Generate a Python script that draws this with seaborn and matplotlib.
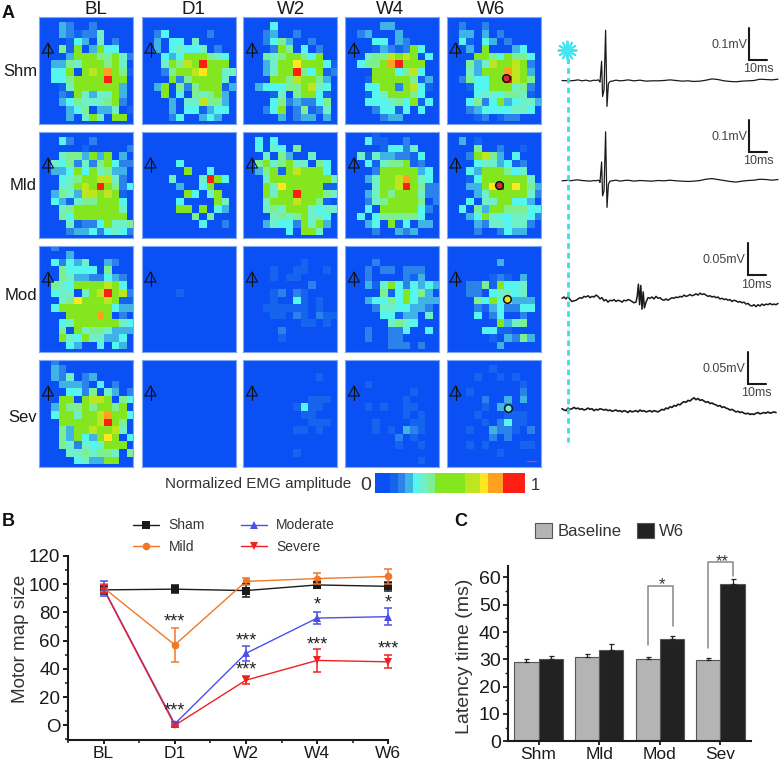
import numpy as np
import pandas as pd
import matplotlib
matplotlib.use("Agg")
import matplotlib.pyplot as plt
from matplotlib.colors import ListedColormap, BoundaryNorm
import seaborn as sns

sns.set_theme(style="white")
plt.rcParams['font.family'] = ['Liberation Sans', 'DejaVu Sans']

W, H = 780, 763
PALETTE = ['#0A50F5', '#1464F0', '#2A82EA', '#3FB2E6', '#55F5F0', '#6FF0C8',
           '#7CF090', '#84E61E', '#BEE61E', '#FFE61E', '#FFA01E', '#FF1E14']

times = ['BL', 'D1', 'W2', 'W4', 'W6']
groups_short = ['Shm', 'Mld', 'Mod', 'Sev']
groups_long = ['Sham', 'Mild', 'Moderate', 'Severe']
Z = "0000000000000"

# motor maps: one hex digit per cell = amplitude level
shm_bl = [Z,"0003200200000","0003212250000","0000143050200","0006170374400",
          "0000377766752","0033657776750","004470787a761","004467777b770","0001577777730",
          "0002175355730","0003465556720","0000346033501","0000305750770"]
shm_d1 = [Z,Z,"0024000002000","0030440500000","0030454450200",
          "0004347776540","00057687b7770","0002677897755","0000726777750","0037062677713",
          "0007040656730","0000305586630","0000304413440","0000240034300"]
shm_w2 = [Z,"0000400000000","0002300200000","0002463002000","0000276040200",
          "0006567764700","0003577977741","0003577b64712","0000776877630","0034446678540",
          "0000150677410","0000462322460","0002470261250","0000030233030"]
shm_w4 = [Z,"0000033000000","0023000300000","0000440320000","0000132127400",
          "0005668787040","004667ab77700","0000777468400","0001777776130","0004477278410",
          "0001457776400","0004445647140","0000244140400","0000023300000"]
shm_w6 = [Z,"0020020000000","0033030200000","0041043020000","0003070003400",
          "0000776476640","0006358778720","00053777a8730","00264477b8760","0001447775620",
          "0000455466510","0004624734553","0002344445540","0000120122000"]

mld_bl = [Z,"0004200200000","0000001000002","0005663737030","0054625267422",
          "0033474756330","0004567788520","00055787b7624","0036538878710","0043156677740",
          "0005677777750","0006477777770","0000512247556","0000233424542"]
mld_d1 = [Z,Z,Z,Z,"0000040000000","0000007004000","000050005b740","0000030047000","0000007405700",
          "0000040000750","0000077070430","0000000606000","0000000040020",Z]
mld_w2 = [Z,"0040400000000","0040540600000","0005063005000","0067567550640",
          "0036717877740","0005777777775","0007597777711","0007577b77765","0005777877610",
          "0005657775455","0000565675540","0003544275730","0000004077500"]
mld_w4 = ["0000100000000","0004110020000","0000014425000","0051533221400","0004156671200",
          "0000277777340","00035778a7540","00005778b7622","0003576777522","0002567777602",
          "0004077777420","0040466666400","0003407140330","0000200323000"]
mld_w6 = [Z,"0030100000000","0000600200100","0002786304000","0000455341200",
          "0004377764500","0001477777750","0003379b79763","0000357777752","0004055774430",
          "0040637766644","0003475445542","0000325545520","0000200243300"]

mod_bl = ["0020000000000","0000300000000","0042435003200","0006444406000","0006533224320",
          "0065477778740","004550578b782","0005697778711","0047777777433","00007777a7020",
          "0004577777754","0006075665333","0007547553340","0000430040430"]
mod_d1 = [Z,Z,Z,Z,Z,Z,"0000010000000",Z,Z,Z,Z,Z,Z,Z]
mod_w2 = [Z,Z,"0000000010000","0000100110010","0000101100000","0000000002000","0000120210000",
          "0000100410100","0001111110100","0000110210211","0000000011010","0000020000000",
          "0000010000000",Z]
mod_w4 = [Z,Z,"0000200000000","0002022022200","0002000021300","0003157424343","0000061474630",
          "0003446474333","0000255443320","0000044133050","0000005654000","0002002240040",
          "0002002200000","0000002220200"]
mod_w6 = [Z,Z,"0000000300000",Z,"0000001210300","0002261744500","0002204554500",
          "0000647453330","0000213422440","0000402400200","0000000735600","0000044110000",
          "0000001032630","0000000300000"]

sev_bl = ["0020000000000","0032000000000","0032502300000","0003332040200","0000442605302",
          "0007707887064","0037667677670","004775778a774","000777778b760","0006377877850",
          "0006374379704","0006525457770","0000556566506","0000045337700"]
sev_d1 = [Z] * 14
sev_w2 = [Z,Z,"0000000000100",Z,Z,"0000000001110","0000000141100","0000000011000","0000000001110",
          "0000000110100",Z,Z,"0000000100000",Z]
sev_w4 = [Z,Z,Z,"0001000000000","0000000001000","0000000010000","0001010011000","0000000010100",
          "0000100001100","0000101032100","0000000201000","0000000100100",Z,"0000000000100"]
sev_w6 = [Z,"0000001000000","0000100101000","0000000000100","0001000000200","0000020030300",
          "0000010320000","0000100011100","0000010241100","0001003221020","0000002020000",
          "0001010000110","0000000100000",Z]

map_rows = [[shm_bl, shm_d1, shm_w2, shm_w4, shm_w6],
            [mld_bl, mld_d1, mld_w2, mld_w4, mld_w6],
            [mod_bl, mod_d1, mod_w2, mod_w4, mod_w6],
            [sev_bl, sev_d1, sev_w2, sev_w4, sev_w6]]
cbar_levels = [0,0,1,2,3,4,5,6,7,7,7,7,8,8,9,10,10,11,11,11]

# panel B
sham_v = [96, 96.5, 95.5, 99.5, 98.5]; sham_e = [3, 3, 4.5, 2, 3]
mild_v = [97.5, 57, 102, 104, 105.5]; mild_e = [3, 12, 2.5, 4, 5.5]
mode_v = [97, 1, 51, 76, 77]; mode_e = [5, 1.5, 5.5, 4.5, 6]
seve_v = [96.5, 0, 32, 46, 45]; seve_e = [3, 1, 3, 8, 4.5]
line_colors = ['#1A1A1A', '#F07828', '#4A50E8', '#F02020']
star_x = [1, 1, 2, 2, 3, 3, 4, 4]
star_y = [73, 10, 60, 39, 85, 57, 86.5, 54]
star_t = ['***', '***', '***', '***', '*', '***', '*', '***']

# panel C
base_v = [29.2, 31, 30, 29.6]; base_e = [1, 1, 1, 0.8]
w6_v = [30.3, 33.6, 37.5, 57.5]; w6_e = [1.1, 2.1, 1, 1.9]

# EMG traces, microvolts vs ms
t_base = [-3,-1,0,1,3,5,7,9,11,13,14,15]
t_tail = [22,24,26,28,30,33,36,39,42,45,48,51,54,57,60,63,66,69,72,75,78,81,84,87,90,93,96,99,102,105]
t1 = t_base + [15.5,16,16.8,17.3,18,18.8,19.5,20.2,21] + t_tail
y1 = [0,-1,1,-1,0,2,-1,1,-2,1,0,2, 0,-5,60,-50,-30,157,-81,-10,-3,
      -2,1,-1,0,2,-1,1,-2,-1,-1,0,2,0,-2,-1,-3,-2,1,5,3,-1,-3,-4,-2,-1,0,4,3,2,4]
y2 = [-1,0,1,-1,1,2,0,-1,-2,0,-1,1, 0,-6,58,-48,-32,152,-84,-12,-2,
      -1,1,-2,0,1,-2,0,-1,-2,0,-1,1,-1,-2,-3,-2,0,4,6,3,0,-3,-5,-2,0,1,4,3,1,3]
t3 = list(range(-3, 34)) + [34,34.6,35.2,35.8,36.4,37,37.6,38.2] + list(range(39, 106))
y3 = [0,2,-1,3,-2,-5,-4,-3,-1,
      1,0,3,2,4,1,3,2,5,3,
      -1,1,-4,-2,-6,-3,-4,-2,-5,-3,
      -4,-6,-3,-4,-2,-3,-5,-7,
      -6,3,22,-10,20,-17,10,-15,
      -6,1,0,2,-1,3,0,1,-2,-3,
      -1,-3,-1,1,0,2,1,3,2,5,
      3,4,6,4,5,7,5,8,6,7,
      5,3,4,2,3,1,2,-1,0,-2,
      -1,-3,-2,-5,-3,-4,-6,-5,-7,-6,
      -9,-8,-11,-12,-10,-13,-10,-12,-9,-11,
      -9,-10,-8,-10,-9,-10,-8]
t4 = list(range(-3, 105))
y4 = [2,0,-1,3,1,2,4,2,3,1,
      2,0,1,3,1,2,-1,1,0,2,
      1,0,1,-1,0,-2,-1,0,-2,-1,
      -3,-1,-2,-4,-1,-3,-2,-1,-3,0,
      -2,-1,-3,-2,-1,-3,-1,-2,-3,-1,
      1,0,3,2,5,4,7,6,9,8,
      11,13,12,15,14,17,19,16,18,15,
      16,14,12,13,10,11,9,8,6,7,
      4,5,3,2,0,1,-1,-3,-2,-4,
      -3,-5,-6,-5,-7,-6,-7,-5,-4,-6,
      -5,-4,-5,-3,-5,-4,-3,-4]

fig = plt.figure(figsize=(7.8, 7.63), dpi=100)

def rect(x0, y0, x1, y1):
    return [x0 / W, 1 - y1 / H, (x1 - x0) / W, (y1 - y0) / H]

cmap = ListedColormap(PALETTE)
norm = BoundaryNorm(np.arange(-0.5, 12.5), 12)
col_x = [(39, 133), (141.5, 235.5), (243, 337), (345, 439), (446.5, 541)]
row_y = [(17, 124), (132, 238), (246, 352), (360, 467)]
for r, rows in enumerate(map_rows):
    for c, panel in enumerate(rows):
        arr = np.array([[int(ch, 16) for ch in s.ljust(13, '0')[:13]] for s in panel])
        ax = fig.add_axes(rect(col_x[c][0], row_y[r][0], col_x[c][1], row_y[r][1]))
        ax.set_facecolor(PALETTE[0])
        sns.heatmap(arr, ax=ax, cmap=cmap, norm=norm, cbar=False, xticklabels=False, yticklabels=False)
        ax.set_xlim(0.37, 12.82)
        ax.set_ylim(14.35, 0.3)
        for s in ax.spines.values():
            s.set_visible(True); s.set_color('#7FA8F0'); s.set_linewidth(0.8)

# colorbar
cax = fig.add_axes(rect(375, 473, 525, 493))
sns.heatmap(np.array([cbar_levels]), ax=cax, cmap=cmap, norm=norm, cbar=False, xticklabels=False, yticklabels=False)

# traces
def trace_axis(t, y, base_y, uv_per_px, lw):
    box = (560, base_y - 60, 780, base_y + 40)
    ax = fig.add_axes(rect(*box))
    ax.patch.set_alpha(0)
    sns.lineplot(x=t, y=y, ax=ax, color='#1A1A1A', lw=lw, estimator=None, sort=False)
    ax.set_xlim((box[0] - 568) / 2, (box[2] - 568) / 2)
    ax.set_ylim(-40 * uv_per_px, 60 * uv_per_px)
    ax.axis('off')

trace_axis(t1, y1, 80.5, 3.125, 0.9)
trace_axis(t1, y2, 180.5, 3.125, 0.9)
trace_axis(t3, y3, 298.3, 1.56, 1.1)
trace_axis(t4, y4, 410, 1.56, 1.2)

# panel B
ax = fig.add_axes(rect(68, 556, 388.3, 740))
df = pd.DataFrame({
    'pos': list(range(5)) * 4,
    'size': sham_v + mild_v + mode_v + seve_v,
    'err': sham_e + mild_e + mode_e + seve_e,
    'group': sum([[g] * 5 for g in groups_long], []),
})
sns.lineplot(data=df, x='pos', y='size', hue='group', style='group', ax=ax, palette=line_colors,
             hue_order=groups_long, style_order=groups_long, markers=['s', 'o', '^', 'v'], dashes=False,
             markersize=5.5, markeredgewidth=0, lw=1.0, estimator=None, clip_on=False, legend='full')
for g, col in zip(groups_long, line_colors):
    d = df[df.group == g]
    ax.errorbar(d.pos, d['size'], yerr=d.err, fmt='none', ecolor=col, elinewidth=1.1, capsize=2.6, capthick=1.1, clip_on=False)
ax.set_xlim(-0.5, 4)
ax.set_ylim(-10.4, 120)
ax.set_xticks(range(5), times)
ax.set_xticks([0.5, 1.5, 2.5, 3.5, -0.5], minor=True)
ax.set_yticks(range(0, 121, 20), ['O', '20', '40', '60', '80', '100', '120'])
ax.set_yticks(range(-10, 121, 20), minor=True)
ax.tick_params(axis='y', which='major', direction='out', length=3.6, width=1.4, color='#1A1A1A', labelsize=13.5,
               labelcolor='#1A1A1A', left=True, pad=2)
ax.tick_params(axis='x', which='major', direction='out', length=3, width=1.4, color='#1A1A1A', labelsize=12.5,
               labelcolor='#1A1A1A', bottom=True, pad=1)
ax.tick_params(axis='both', which='minor', direction='out', length=2, width=1.1, color='#1A1A1A', left=True, bottom=True)
sns.despine(ax=ax)
for k in ('left', 'bottom'):
    ax.spines[k].set_linewidth(1.5); ax.spines[k].set_color('#1A1A1A')
ax.set_xlabel('')
ax.set_ylabel('Motor map size', fontsize=13.6, color='#333333')
ax.yaxis.set_label_coords(-0.122, 0.549)
for x, y, s in zip(star_x, star_y, star_t):
    ax.text(x, y, s, ha='center', va='center', fontsize=13, color='#222222')
h, l = ax.get_legend_handles_labels()
ax.legend(h, l, ncol=2, frameon=False, fontsize=10, labelcolor='#333333', loc='upper left', handlelength=1.9,
          bbox_to_anchor=(0.203, 1.204), columnspacing=2.6, labelspacing=0.55, handletextpad=0.65,
          borderpad=0, borderaxespad=0)

# panel C
ax = fig.add_axes(rect(508.3, 565.7, 750.7, 741.3))
dfc = pd.DataFrame({'grp': groups_short * 2, 'v': base_v + w6_v, 'cond': ['Baseline'] * 4 + ['W6'] * 4})
sns.barplot(data=dfc, x='grp', y='v', hue='cond', ax=ax, palette=['#B4B4B4', '#222222'], errorbar=None, width=0.8,
            gap=0, saturation=1, edgecolor='#555555', linewidth=0.8)
for off, vals, errs in ((-0.2, base_v, base_e), (0.2, w6_v, w6_e)):
    ax.errorbar(np.arange(4) + off, vals, yerr=[[0] * 4, errs], fmt='none', ecolor='#222222', elinewidth=0.9, capsize=1.8, capthick=0.9)
ax.set_xlim(-0.5, 3.5)
ax.set_ylim(0, 64.3)
ax.set_yticks(range(0, 61, 10))
ax.set_yticks(range(5, 61, 10), minor=True)
ax.tick_params(axis='y', which='major', direction='out', length=3.5, width=1.3, color='#1A1A1A', labelsize=14,
               labelcolor='#1A1A1A', left=True, pad=2)
ax.tick_params(axis='x', which='major', direction='out', length=3, width=1.3, color='#1A1A1A', labelsize=12.5,
               labelcolor='#1A1A1A', bottom=True, pad=1)
ax.tick_params(axis='y', which='minor', direction='out', length=2, width=1, color='#1A1A1A', left=True)
sns.despine(ax=ax)
for k in ('left', 'bottom'):
    ax.spines[k].set_linewidth(1.5); ax.spines[k].set_color('#1A1A1A')
ax.set_xlabel('')
ax.set_ylabel('Latency time (ms)', fontsize=14, color='#333333')
ax.yaxis.set_label_coords(-0.146, 0.483)
ax.plot([1.812, 1.812, 2.224, 2.224], [35.2, 56.8, 56.8, 42.3], color='#888888', lw=1.1)
ax.plot([2.797, 2.797, 3.21, 3.21], [34.2, 65.5, 65.5, 60.6], color='#888888', lw=1.1, clip_on=False)
ax.text(2.04, 57.2, '*', ha='center', va='center', fontsize=12, color='#333333')
ax.text(3.03, 65.8, '**', ha='center', va='center', fontsize=12, color='#333333')
h, l = ax.get_legend_handles_labels()
ax.legend(h, l, ncol=2, frameon=False, fontsize=12, labelcolor='#333333', loc='upper left', handlelength=1.03, handleheight=1.05,
          bbox_to_anchor=(0.11, 1.243), columnspacing=0.95, handletextpad=0.3, borderpad=0, borderaxespad=0)

# overlay in figure pixels for labels and annotation glyphs
ov = fig.add_axes([0, 0, 1, 1], zorder=20)
ov.set_xlim(0, W); ov.set_ylim(H, 0); ov.axis('off'); ov.patch.set_alpha(0)
head_x = [95.7, 193, 291, 390, 490.7]
for c, (x0, x1) in enumerate(col_x):
    ov.text(head_x[c], 9, times[c], ha='center', va='center', fontsize=13.5, color='#1A1A1A')
    for (y0, y1) in row_y:
        ax_, ay = x0 + 9, y0 + 26
        ov.plot([ax_ - 5.5, ax_, ax_ + 5.5, ax_ - 5.5], [ay + 10, ay, ay + 10, ay + 10], color='#111111', lw=0.8)
        ov.plot([ax_, ax_], [ay, ay + 14], color='#111111', lw=0.8)
for name, y in zip(groups_short, [71, 186, 296, 417]):
    ov.text(37, y, name, ha='right', va='center', fontsize=12, color='#1A1A1A')
for ch, x, y in [('A', 2, 13), ('B', 2, 522), ('C', 454, 522)]:
    ov.text(x, y, ch, ha='left', va='center', fontsize=13, fontweight='bold', color='#111111')
ov.text(165, 484, 'Normalized EMG amplitude', ha='left', va='center', fontsize=11, color='#333333')
ov.text(366, 485, '0', ha='center', va='center', fontsize=14, color='#333333')
ov.text(535, 485, '1', ha='center', va='center', fontsize=12, color='#333333')
for (x, y, col) in [(506, 78, '#D43030'), (499, 184.6, '#D43030'), (507, 299, '#E8E020'), (508, 408, '#70F0D8')]:
    ov.plot([x], [y], 'o', ms=5.5, mfc=col, mec='#111111', mew=1.1)
ov.plot([527, 536], [461, 461], color='#E04060', lw=0.9)
ov.plot([568, 568], [58, 442], color='#3EDCE8', lw=2, dashes=(2, 1.5))
ov.plot([567], [50], marker=(12, 2, 0), ms=14, mew=1.4, color='#45E4F0')
for y0, y1, lab, ly, ty in [(28.3, 60.3, '0.1mV', 45, 69), (120, 152.3, '0.1mV', 137, 161),
                            (243.3, 275, '0.05mV', 260, 285), (351.7, 384, '0.05mV', 369, 393)]:
    x0 = 749.3 if '0.1' in lab else 747.7
    ov.plot([x0, x0, x0 + 18], [y0, y1, y1], color='#1A1A1A', lw=1.5, solid_joinstyle='miter')
    ov.text(x0 - 2, ly, lab, ha='right', va='center', fontsize=9, color='#444444')
    ov.text(x0 + 9, ty, '10ms', ha='center', va='center', fontsize=9, color='#444444')

fig.savefig('out.png', dpi=100)
